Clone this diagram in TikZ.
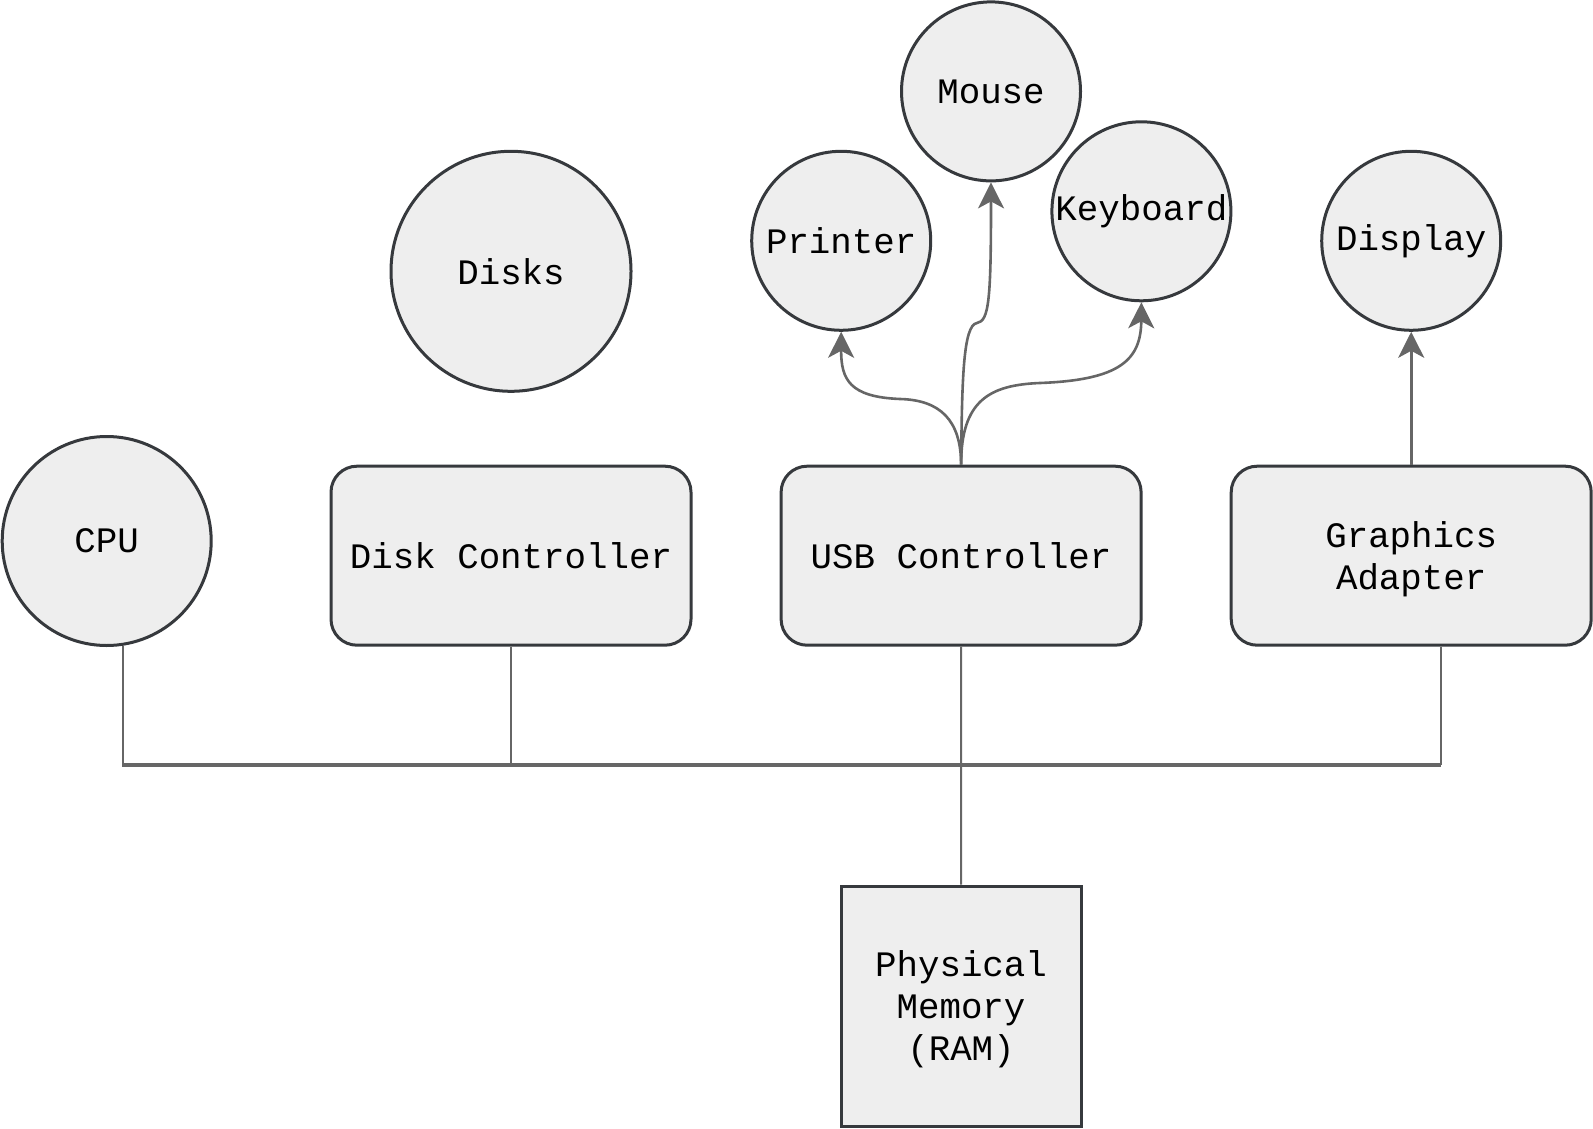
\documentclass[tikz,border=0pt]{standalone}
\usepackage{fontspec}
\setmonofont{Liberation Mono}
\usetikzlibrary{arrows.meta}
\definecolor{shapefill}{HTML}{EEEEEE}
\definecolor{shapeline}{HTML}{36393D}
\definecolor{wiregray}{HTML}{666666}
\newcommand{\nodepth}[1]{\raisebox{0pt}[\height][0pt]{#1}}
\tikzset{
  dev/.style={circle,draw=shapeline,fill=shapefill,line width=1.5pt,inner sep=0pt,minimum size=#1},
  dev/.default=89.5pt,
  ctrl/.style={rectangle,rounded corners=13pt,draw=shapeline,fill=shapefill,line width=1.5pt,
    minimum width=180pt,minimum height=89.5pt,align=center},
  mem/.style={rectangle,draw=shapeline,fill=shapefill,line width=1.5pt,minimum size=120pt,align=center},
  link/.style={draw=wiregray,line width=1.3pt,-{Stealth[length=13pt,width=13pt,inset=3.5pt]}},
  tie/.style={draw=wiregray,line width=1pt},
  bus/.style={draw=wiregray,line width=1.8pt},
}
\begin{document}
\begin{tikzpicture}[x=.5pt,y=-.5pt,font=\ttfamily\fontsize{17.9pt}{21pt}\selectfont]
    \useasboundingbox (0,0) rectangle (1593,1128);
    % devices
    \node[dev=104.5pt] (cpu) at (106.7,541) {CPU};
    \node[dev=120pt] (disks) at (511,271.3) {Disks};
    \node[dev] (printer) at (841.2,240.8) {Printer};
    \node[dev] (mouse) at (991,91.4) {Mouse};
    \node[dev] (keyboard) at (1141.4,211.3) {Keyboard};
    \node[dev] (display) at (1411.2,240.8) {Display};
    % controllers
    \node[ctrl] (dctrl) at (511,555.7) {Disk Controller};
    \node[ctrl] (usb) at (961.1,555.7) {USB Controller};
    \node[ctrl] (gfx) at (1411.2,555.7) {Graphics\\\nodepth{Adapter}};
    \node[mem] (ram) at (961,1006) {Physical\\Memory\\\nodepth{(RAM)}};
    % bus
    \coordinate (busL) at (122,765);
    \coordinate (busR) at (1441,765);
    \draw[bus] (busL) -- (busR);
    \draw[tie] (cpu.-81.6) -- (cpu.-81.6 |- busL);
    \draw[tie] (dctrl.south) -- (dctrl.south |- busL);
    \draw[tie] (busR |- gfx.south) -- (busR);
    \draw[tie] (usb.south) -- (ram.north);
    % usb devices
    \draw[link] (usb.north) .. controls (961,420) and (940,400) .. (900,399)
      .. controls (850,397) and (841,380) .. (printer.south);
    \draw[link] (usb.north) .. controls (962,380) and (963,325) .. (977,323)
      .. controls (989,321) and (991,300) .. (mouse.south);
    \draw[link] (usb.north) .. controls (961,400) and (990,385) .. (1040,383)
      .. controls (1120,380) and (1141,360) .. (keyboard.south);
    \draw[link] (gfx.north) -- (display.south);
\end{tikzpicture}
\end{document}
